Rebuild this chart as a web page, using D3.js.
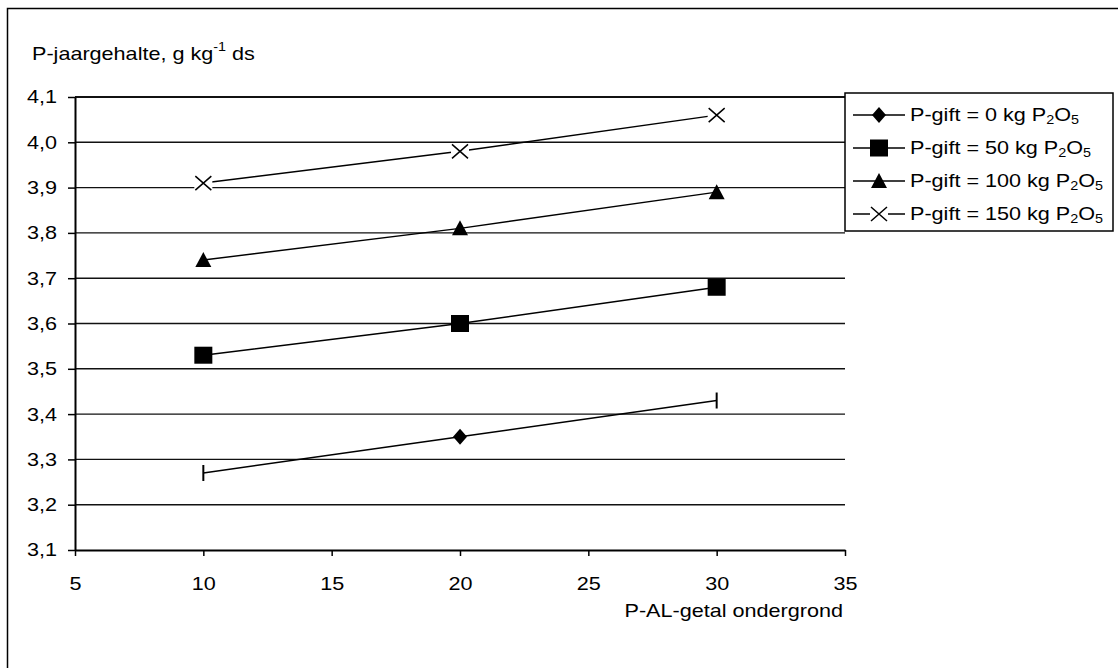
<!DOCTYPE html>
<html>
<head>
<meta charset="utf-8">
<script src="https://cdn.jsdelivr.net/npm/d3@7"></script>
<style>
  html, body { margin: 0; padding: 0; background: #fff; }
  svg { display: block; }
  text { font-family: "Liberation Sans", Arial, sans-serif; fill: #000; }
</style>
</head>
<body>
<svg id="chart" width="1118" height="668"></svg>
<script>
// P-AL value of the subsoil (x) and P content per fertiliser level (y)
const pAL = [10, 20, 30];
const gift0 = [3.27, 3.35, 3.43];
const gift50 = [3.53, 3.60, 3.68];
const gift100 = [3.74, 3.81, 3.89];
const gift150 = [3.91, 3.98, 4.06];

const giftLevels = ["0", "50", "100", "150"];
const xTicks = [5, 10, 15, 20, 25, 30, 35];
const yTicks = [3.1, 3.2, 3.3, 3.4, 3.5, 3.6, 3.7, 3.8, 3.9, 4.0, 4.1];

const series = [
  { level: giftLevels[0], values: gift0, shape: "diamond" },
  { level: giftLevels[1], values: gift50, shape: "square" },
  { level: giftLevels[2], values: gift100, shape: "triangle" },
  { level: giftLevels[3], values: gift150, shape: "cross" }
];

const FS = 18;      // font size
const SX = 1.2;     // horizontal stretch of the lettering

const svg = d3.select("#chart");
svg.append("rect").attr("width", 1118).attr("height", 668).attr("fill", "#fff");
// chart area frame
svg.append("rect").attr("x", 7.5).attr("y", 8.5).attr("width", 1130).attr("height", 700)
  .attr("fill", "none").attr("stroke", "#000").attr("stroke-width", 1.5);

const x = d3.scaleLinear().domain([5, 35]).range([75, 845]);
const y = d3.scaleLinear().domain([3.1, 4.1]).range([550, 97]);

// horizontal gridlines
svg.append("g").selectAll("line").data(yTicks.slice(1)).join("line")
  .attr("x1", x(5)).attr("x2", x(35))
  .attr("y1", d => y(d)).attr("y2", d => y(d))
  .attr("stroke", "#111").attr("stroke-width", d => d === 4.1 ? 2 : 1.4);

// axes
const yAxis = svg.append("g").attr("transform", `translate(${x(5)},0)`)
  .call(d3.axisLeft(y).tickValues(yTicks).tickSize(7).tickSizeOuter(0)
    .tickFormat(d => d.toFixed(1).replace(".", ",")));
const xAxis = svg.append("g").attr("transform", `translate(0,${y(3.1)})`)
  .call(d3.axisBottom(x).tickValues(xTicks).tickSize(6).tickSizeOuter(0));

[yAxis, xAxis].forEach(g => {
  g.select(".domain").attr("stroke", "#000").attr("stroke-width", 2);
  g.selectAll(".tick line").attr("stroke", "#000").attr("stroke-width", 1.5);
  g.selectAll("text").attr("font-size", FS).attr("font-family", null).attr("fill", "#000");
});
yAxis.selectAll(".tick text")
  .attr("x", 0).attr("dy", "0.33em")
  .attr("transform", `translate(-18,0) scale(${SX},1)`);
xAxis.selectAll(".tick text")
  .attr("y", 0).attr("dy", 0)
  .attr("transform", `translate(0,40) scale(${SX},1)`);

// axis titles
const title = svg.append("text")
  .attr("transform", `translate(32,60) scale(${SX},1)`)
  .attr("font-size", FS);
title.append("tspan").text("P-jaargehalte, g kg");
title.append("tspan").attr("font-size", 12).attr("dy", -9).text("-1");
title.append("tspan").attr("dy", 9).text(" ds");

svg.append("text")
  .attr("transform", `translate(843,617) scale(${SX},1)`)
  .attr("text-anchor", "end").attr("font-size", FS)
  .text("P-AL-getal ondergrond");

// marker drawing
function drawMarker(g, shape) {
  if (shape === "diamond") {
    g.append("path").attr("d", "M0,-8L7,0L0,8L-7,0Z").attr("fill", "#000");
  } else if (shape === "square") {
    g.append("rect").attr("x", -9).attr("y", -8.5).attr("width", 18).attr("height", 17).attr("fill", "#000");
  } else if (shape === "triangle") {
    g.append("path").attr("d", "M0,-8L8,7L-8,7Z").attr("fill", "#000");
  } else if (shape === "cross") {
    g.append("rect").attr("x", -9).attr("y", -8).attr("width", 18).attr("height", 16).attr("fill", "#fff");
    g.append("path").attr("d", "M-8,-7L8,7M-8,7L8,-7")
      .attr("stroke", "#000").attr("stroke-width", 1.5).attr("fill", "none");
  } else if (shape === "bar") {
    g.append("line").attr("y1", -8).attr("y2", 8).attr("stroke", "#000").attr("stroke-width", 2);
  }
}

const line = d3.line().x((d, i) => x(pAL[i])).y(d => y(d));

series.forEach((s, si) => {
  const g = svg.append("g");
  g.append("path").attr("d", line(s.values))
    .attr("fill", "none").attr("stroke", "#000").attr("stroke-width", 1.5);
  s.values.forEach((v, i) => {
    // the lowest level shows end caps instead of diamonds at its outer points
    const shape = si === 0 && (i === 0 || i === s.values.length - 1) ? "bar" : s.shape;
    drawMarker(g.append("g").attr("transform", `translate(${x(pAL[i])},${y(v)})`), shape);
  });
});

// legend
const legend = svg.append("g");
legend.append("rect").attr("x", 845).attr("y", 93).attr("width", 268).attr("height", 138)
  .attr("fill", "#fff").attr("stroke", "#000").attr("stroke-width", 1.5);
series.forEach((s, i) => {
  const cy = 115 + i * 33;
  const row = legend.append("g");
  row.append("line").attr("x1", 853).attr("x2", 905).attr("y1", cy).attr("y2", cy)
    .attr("stroke", "#000").attr("stroke-width", 1.5);
  drawMarker(row.append("g").attr("transform", `translate(879,${cy})`), s.shape);
  const t = row.append("text")
    .attr("transform", `translate(910,${cy + 6}) scale(${SX},1)`)
    .attr("font-size", FS);
  t.append("tspan").text(`P-gift = ${s.level} kg P`);
  t.append("tspan").attr("font-size", 12).attr("dy", 3).text("2");
  t.append("tspan").attr("dy", -3).text("O");
  t.append("tspan").attr("font-size", 12).attr("dy", 3).text("5");
});
</script>
</body>
</html>
